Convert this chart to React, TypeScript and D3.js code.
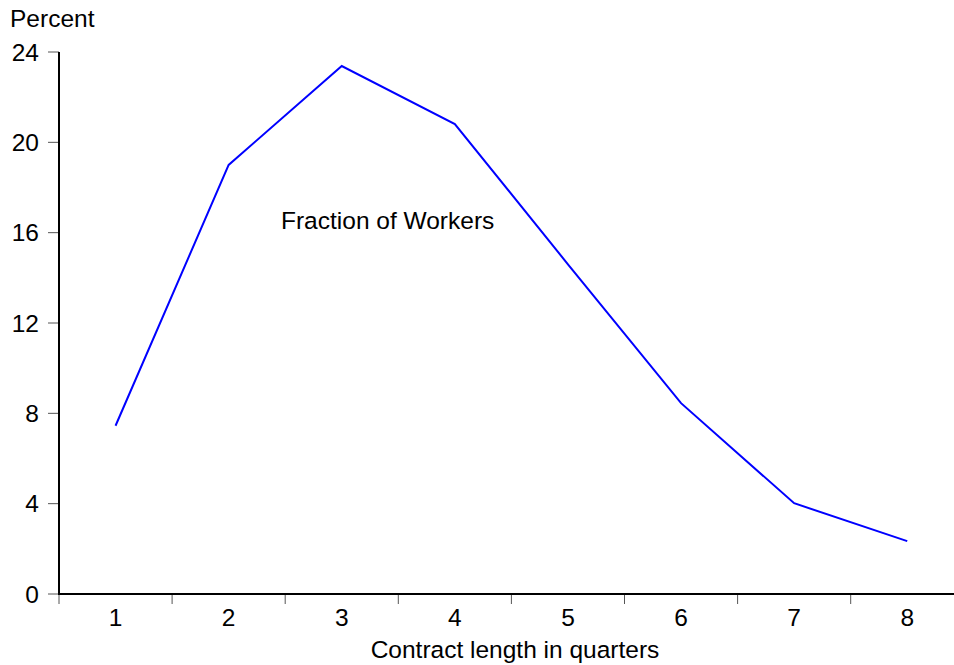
import React from "react";
import * as d3 from "d3";

const categories = [1, 2, 3, 4, 5, 6, 7, 8];
const fractionOfWorkers = [7.45, 19.0, 23.38, 20.81, 14.6, 8.45, 4.02, 2.34];
const yTicks = [0, 4, 8, 12, 16, 20, 24];
const yLabel = "Percent";
const xLabel = "Contract length in quarters";
const seriesLabel = "Fraction of Workers";

const W = 954;
const H = 665;
const FONT = "'Liberation Sans', Arial, sans-serif";
const FS = 24.5;

export default function App() {
  const x = d3.scaleLinear().domain([0.5, 8.5]).range([59, 59 + 8 * 113.1]);
  const y = d3.scaleLinear().domain([0, 24]).range([594, 52]);
  const line = d3
    .line<number>()
    .x((_, i) => x(categories[i]))
    .y((d) => y(d));
  const bounds = d3.range(0.5, 8.5, 1);

  return (
    <svg
      width={W}
      height={H}
      style={{ position: "absolute", left: 0, top: 0, background: "#fff" }}
      fontFamily={FONT}
    >
      <rect width={W} height={H} fill="#fff" />
      <text x={10} y={27} fontSize={FS} fill="#000">
        {yLabel}
      </text>
      {yTicks.map((t) => (
        <g key={t}>
          <line x1={48} x2={59} y1={y(t)} y2={y(t)} stroke="#555" strokeWidth={1} />
          <text
            x={39}
            y={y(t)}
            dy="0.36em"
            textAnchor="end"
            fontSize={FS}
            fill="#000"
          >
            {t}
          </text>
        </g>
      ))}
      {bounds.map((b) => (
        <line key={b} x1={x(b)} x2={x(b)} y1={594} y2={604} stroke="#555" strokeWidth={1} />
      ))}
      {categories.map((c) => (
        <text key={c} x={x(c)} y={626} textAnchor="middle" fontSize={FS} fill="#000">
          {c}
        </text>
      ))}
      <line x1={59} x2={59} y1={y(24)} y2={y(0)} stroke="#000" strokeWidth={2} />
      <line x1={58} x2={W} y1={y(0)} y2={y(0)} stroke="#000" strokeWidth={2} />
      <path d={line(fractionOfWorkers) || ""} fill="none" stroke="#0000ff" strokeWidth={2} />
      <text x={281} y={229} fontSize={FS} fill="#000">
        {seriesLabel}
      </text>
      <text x={515} y={658} textAnchor="middle" fontSize={FS} fill="#000">
        {xLabel}
      </text>
    </svg>
  );
}
